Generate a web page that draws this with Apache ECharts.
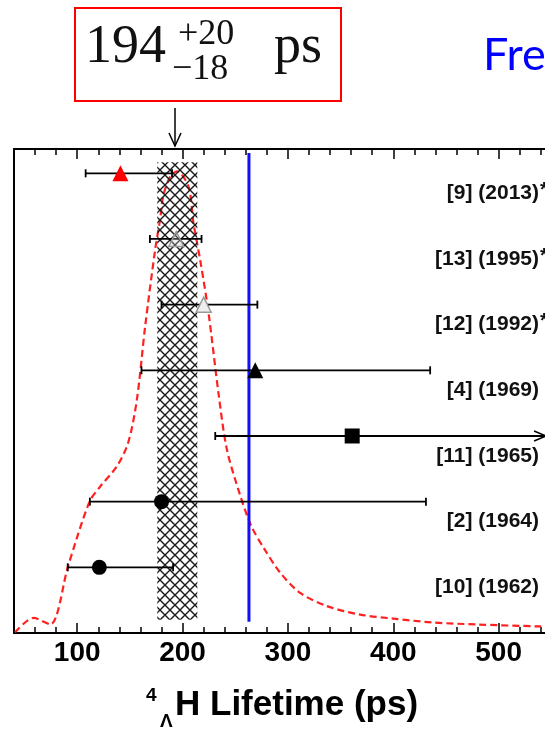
<!DOCTYPE html>
<html><head><meta charset="utf-8">
<script src="https://cdn.jsdelivr.net/npm/echarts@6/dist/echarts.min.js"></script>
<style>
html,body{margin:0;padding:0;overflow:hidden;background:#fff;width:545px;height:730px;position:relative}
#c{width:700px;height:730px;position:absolute;left:0;top:0}
</style>
</head><body><div id="c"></div>
<script>
// ---- data ----
const refLabels = ['[9] (2013)','[13] (1995)','[12] (1992)','[4] (1969)','[11] (1965)','[2] (1964)','[10] (1962)'];
const starred   = [true, true, true, false, false, false, false];
const rows      = [7, 6, 5, 4, 3, 2, 1];
const central   = [141, 194, 220, 269, 361, 180, 121];
const lowEdge   = [108, 169, 180, 161, 231, 112, 91];
const highEdge  = [190, 218, 271, 435, 545, 431, 191];
const openEnded = [false, false, false, false, true, false, false];
const markerKind = ['redTri', 'grayTriFaint', 'grayTri', 'blackTri', 'square', 'circle', 'circle'];
const combinedValue = 194, combinedPlus = 20, combinedMinus = 18;
const freeLifetime = 263;
const curveX = [41, 58.5, 74.4, 91.7, 111.7, 121.8, 137.7, 148.4, 156.6, 164.5, 174.0, 178.7, 181.6, 188.2, 194.6, 205.6, 210.3, 216.7, 224.6, 234.1, 242.0, 254.6, 265.5, 278, 292.6, 311.6, 336.9, 368.5, 399.8, 437.8, 479.2, 539.3, 600];
const curveY = [0.01, 0.23, 0.13, 1.04, 2.0, 2.23, 2.54, 2.90, 3.55, 4.67, 5.84, 6.30, 6.65, 6.95, 7.03, 6.80, 6.25, 5.68, 4.88, 3.65, 2.80, 2.10, 1.62, 1.27, 0.92, 0.61, 0.41, 0.28, 0.22, 0.16, 0.13, 0.10, 0.08];
const majorTicks = [100, 200, 300, 400, 500];
const xMin = 40, xMax = 600, yMin = 0, yMax = 7.37;

// ---- hatch pattern ----
const tile = document.createElement('canvas');
tile.width = 10; tile.height = 10;
(function(){
  const g = tile.getContext('2d');
  g.strokeStyle = '#1a1a1a'; g.lineWidth = 1.4;
  g.beginPath();
  g.moveTo(-1,-1); g.lineTo(11,11);
  g.moveTo(11,-1); g.lineTo(-1,11);
  g.stroke();
})();

const chart = echarts.init(document.getElementById('c'), null, {renderer:'canvas'});

const markerStyles = {
  redTri:      {symbol:'triangle', size:16, color:'#ff0000', border:'#ff0000', bw:0},
  grayTriFaint:{symbol:'triangle', size:15, color:'rgba(200,200,200,0.3)', border:'#999', bw:1.5},
  grayTri:     {symbol:'triangle', size:15, color:'#eeeeee', border:'#999', bw:1.5},
  blackTri:    {symbol:'triangle', size:16, color:'#000', border:'#000', bw:0},
  square:      {symbol:'rect', size:15, color:'#000', border:'#000', bw:0},
  circle:      {symbol:'circle', size:15, color:'#000', border:'#000', bw:0}
};

const markerData = central.map((c, i) => {
  const m = markerStyles[markerKind[i]];
  return {value:[c, rows[i]], symbol:m.symbol, symbolSize:m.size,
    itemStyle:{color:m.color, borderColor:m.border, borderWidth:m.bw, opacity:1}};
});

const minorTicks = [];
for (let v = xMin; v <= xMax; v += 20) if (v % 100 !== 0) minorTicks.push(v);

const tickFont = {fontFamily:'Liberation Sans', fontWeight:'bold', fontSize:28, color:'#000'};

function xAx(pos, major, showLine, showLabel) {
  return {
    type:'value', position:pos, min:xMin, max:xMax, gridIndex:0,
    axisLine:{show:showLine, lineStyle:{color:'#000', width:2}},
    axisTick:{show:true, inside:true, length: major ? 10 : 6, lineStyle:{color:'#000', width:1.5},
      customValues: major ? majorTicks : minorTicks},
    axisLabel:{show:showLabel, margin:6, customValues: majorTicks, ...tickFont},
    splitLine:{show:false}
  };
}

const option = {
  animation:false,
  grid:{left:14, top:149, right:96, bottom:97, containLabel:false},
  xAxis:[
    xAx('bottom', true, true, true),
    xAx('bottom', false, false, false),
    xAx('top', true, true, false),
    xAx('top', false, false, false)
  ],
  yAxis:{type:'value', min:yMin, max:yMax, axisLine:{show:true, lineStyle:{color:'#000', width:2}},
    axisTick:{show:false}, axisLabel:{show:false}, splitLine:{show:false}},
  series:[
    {
      type:'line', z:2, smooth:0.3, symbol:'none', silent:true,
      data: curveX.map((x, i) => [x, curveY[i]]),
      lineStyle:{color:'#ff2020', width:2.2, type:[7,4]}
    },
    {
      type:'custom', z:3, silent:true,
      data:[[combinedValue - combinedMinus, combinedValue + combinedPlus, 0.2, 7.17]],
      renderItem:(params, api) => {
        const p0 = api.coord([api.value(0), api.value(3)]);
        const p1 = api.coord([api.value(1), api.value(2)]);
        return {type:'rect', shape:{x:p0[0], y:p0[1], width:p1[0]-p0[0], height:p1[1]-p0[1]},
          style:{fill:{image:tile, repeat:'repeat'}}};
      }
    },
    {
      type:'line', z:4, symbol:'none', silent:true,
      data:[[freeLifetime, 0.17], [freeLifetime, 7.31]],
      lineStyle:{color:'#1010ff', width:3}
    },
    {
      type:'custom', z:5, silent:true,
      data: rows.map((r, i) => [lowEdge[i], highEdge[i], r, openEnded[i] ? 1 : 0]),
      renderItem:(params, api) => {
        const a = api.coord([api.value(0), api.value(2)]);
        const b = api.coord([api.value(1), api.value(2)]);
        const st = {stroke:'#000', lineWidth:1.8};
        const ch = [
          {type:'line', shape:{x1:a[0], y1:a[1], x2:b[0], y2:b[1]}, style:st},
          {type:'line', shape:{x1:a[0], y1:a[1]-4, x2:a[0], y2:a[1]+4}, style:st}
        ];
        if (api.value(3)) {
          ch.push({type:'polyline', shape:{points:[[b[0]-12, b[1]-5],[b[0], b[1]],[b[0]-12, b[1]+5]]}, style:{stroke:'#000', lineWidth:1.5, fill:null}});
        } else {
          ch.push({type:'line', shape:{x1:b[0], y1:b[1]-4, x2:b[0], y2:b[1]+4}, style:st});
        }
        return {type:'group', children:ch};
      }
    },
    {
      type:'scatter', z:6, silent:true, data: markerData
    },
    {
      type:'custom', z:7, silent:true,
      data: rows.map((r, i) => [0, r, i]),
      renderItem:(params, api) => {
        const i = api.value(2);
        const p = api.coord([xMin, api.value(1)]);
        const y = p[1] + 20;
        const font = 'bold 21px "Liberation Sans"';
        const ch = [{type:'text', style:{text:refLabels[i], x:539, y:y, align:'right', verticalAlign:'middle', font:font, fill:'#111'}}];
        if (starred[i]) ch.push({type:'text', style:{text:'*', x:540, y:y-3, align:'left', verticalAlign:'middle', font:font, fill:'#111'}});
        return {type:'group', children:ch};
      }
    }
  ],
  graphic:[
    {type:'rect', left:74, top:7, shape:{width:266, height:93}, style:{fill:'#fff', stroke:'#ff0000', lineWidth:2}},
    {type:'text', left:85, top:21, style:{text:'194', font:'54px "Liberation Serif"', fill:'#111'}},
    {type:'text', left:178, top:17, style:{text:'+20', font:'36px "Liberation Serif"', fill:'#111'}},
    {type:'text', left:172, top:52, style:{text:'\u221218', font:'36px "Liberation Serif"', fill:'#111'}},
    {type:'text', left:274, top:21, style:{text:'ps', font:'54px "Liberation Serif"', fill:'#111'}},
    {type:'line', shape:{x1:175, y1:108, x2:175, y2:146}, style:{stroke:'#000', lineWidth:1.5}},
    {type:'polyline', shape:{points:[[169,133],[175,146],[181,133]]}, style:{stroke:'#000', lineWidth:1.5, fill:null}},
    {type:'text', left:483, top:33, style:{text:'Free', font:'45px Lato', fill:'#0000ff'}},
    {type:'text', left:146, top:686, style:{text:'4', font:'bold 19px "Liberation Sans"', fill:'#000'}},
    {type:'text', left:160, top:712, style:{text:'\u039b', font:'bold 19px "Liberation Sans"', fill:'#000'}},
    {type:'text', left:175, top:688, style:{text:'H Lifetime (ps)', font:'bold 35px "Liberation Sans"', fill:'#000'}}
  ]
};
chart.setOption(option);
</script>
</body></html>
